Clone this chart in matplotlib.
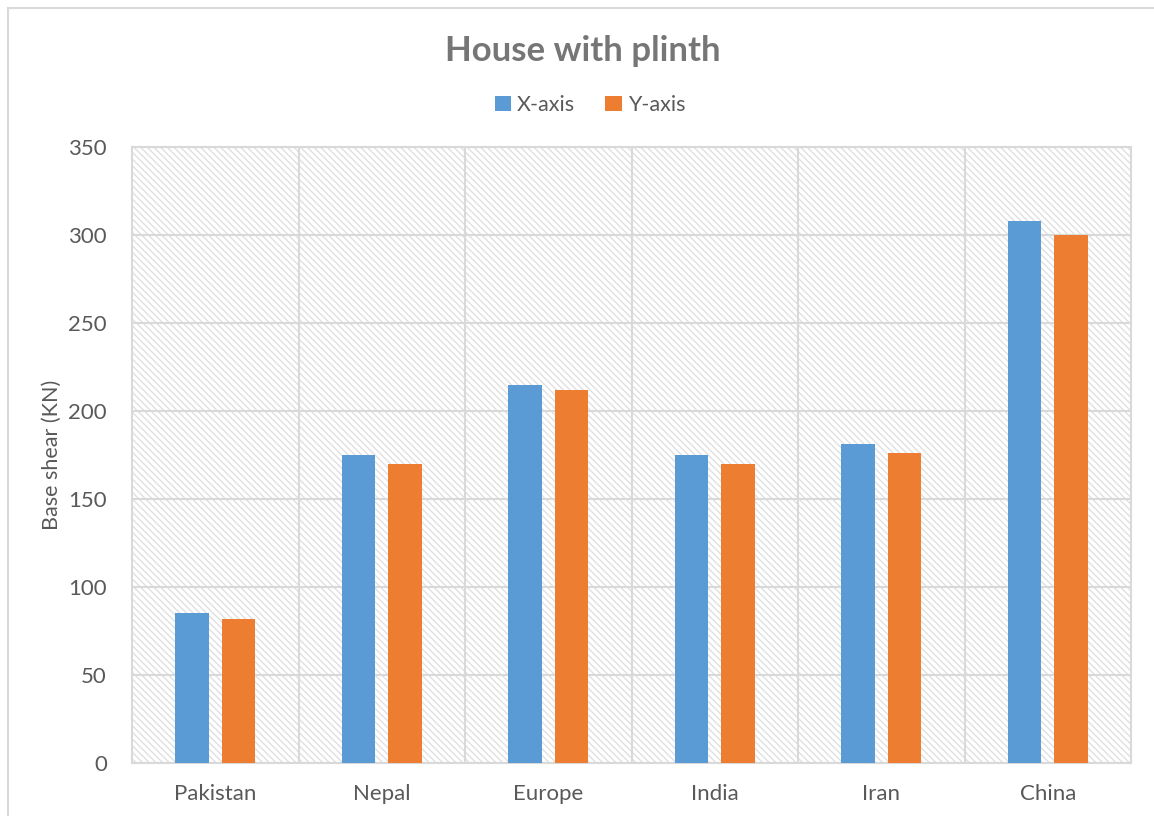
import matplotlib
matplotlib.use("Agg")
import matplotlib.pyplot as plt
from matplotlib.patches import Rectangle
from matplotlib.lines import Line2D
import numpy as np

categories = ["Pakistan", "Nepal", "Europe", "India", "Iran", "China"]
x_axis = [85, 175, 215, 175, 181, 308]
y_axis = [82, 170, 212, 170, 176, 300]
series_names = ["X-axis", "Y-axis"]
y_ticks = [0, 50, 100, 150, 200, 250, 300, 350]

W, H = 1154, 816
DPI = 100
plt.rcParams["font.family"] = ["Lato", "DejaVu Sans"]
plt.rcParams["hatch.color"] = "#e0e0e0"
plt.rcParams["hatch.linewidth"] = 1.0

fig = plt.figure(figsize=(W / DPI, H / DPI), dpi=DPI)
fig.patch.set_facecolor("white")

# plot area in pixel coordinates
left, right, top, bottom = 132, 1131, 147, 763
ax = fig.add_axes([left / W, 1 - bottom / H, (right - left) / W, (bottom - top) / H])

grid_c = "#d9d9d9"
text_c = "#595959"
blue = "#5b9bd5"
orange = "#ed7d31"

# hatched background of the plot area
ax.set_facecolor("white")
bg = Rectangle((0, 0), 1, 1, transform=ax.transAxes, facecolor="white",
               edgecolor="#e0e0e0", linewidth=0, hatch="\\\\\\\\\\", zorder=0)
ax.add_patch(bg)

n = len(categories)
xpos = np.arange(n)
bw = 0.2
off = 0.14
ax.bar(xpos - off, x_axis, bw, color=blue, zorder=3, label=series_names[0])
ax.bar(xpos + off, y_axis, bw, color=orange, zorder=3, label=series_names[1])

ax.set_xlim(-0.5, n - 0.5)
ax.set_ylim(0, 350)
ax.set_yticks(y_ticks)
ax.set_xticks(xpos)
ax.set_xticklabels(categories)

# horizontal gridlines and category separators
for v in y_ticks:
    ax.axhline(v, color=grid_c, lw=1.5, zorder=1)
for b in np.arange(0.5, n - 0.5, 1):
    ax.axvline(b, color=grid_c, lw=1.5, zorder=1)

for s in ax.spines.values():
    s.set_color(grid_c)
    s.set_linewidth(1.5)
    s.set_zorder(1)

ax.tick_params(axis="both", length=0, labelsize=16, labelcolor=text_c)
ax.tick_params(axis="y", pad=18)
ax.tick_params(axis="x", pad=15)
ax.set_ylabel("Base shear (KN)", fontsize=15.5, color=text_c, labelpad=5)

fig.text(583 / W, 1 - 51 / H, "House with plinth", ha="center", va="center",
         fontsize=25, fontweight="bold", color="#767676")

leg = fig.legend(loc="center", bbox_to_anchor=(590 / W, 1 - 105 / H), ncol=2,
                 frameon=False, fontsize=15.5, handlelength=0.75, handleheight=0.75,
                 handletextpad=0.3, columnspacing=1.4)
for t in leg.get_texts():
    t.set_color(text_c)

# outer chart border (left and top edges)
fig.add_artist(Line2D([7.5 / W, 7.5 / W], [0, 1 - 7.5 / H], transform=fig.transFigure,
                      color=grid_c, lw=1.5))
fig.add_artist(Line2D([7.5 / W, 1], [1 - 7.5 / H, 1 - 7.5 / H], transform=fig.transFigure,
                      color=grid_c, lw=1.5))

fig.savefig("out.png", dpi=DPI)
